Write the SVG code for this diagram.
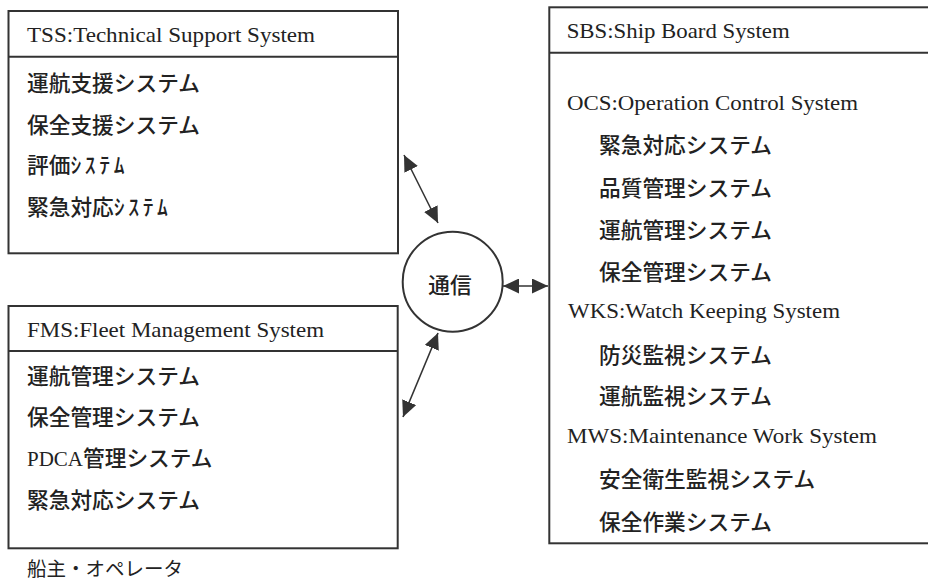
<svg xmlns="http://www.w3.org/2000/svg" width="928" height="581" viewBox="0 0 928 581">
<style>
.box{fill:#fff;stroke:#333;stroke-width:2}
.div{stroke:#333;stroke-width:2}
.lat{font-family:"Liberation Serif","Times New Roman",serif;font-size:21px;fill:#222}
.jp{font-family:"Noto Sans CJK JP","Noto Sans",sans-serif;font-size:21.7px;font-weight:500;fill:#222}
.hw{letter-spacing:3.6px}
.con{stroke:#333;stroke-width:1.6;fill:none;marker-start:url(#ah);marker-end:url(#ah)}
</style>
<defs>
<marker id="ah" markerUnits="userSpaceOnUse" markerWidth="17" markerHeight="15" refX="16" refY="7.5" orient="auto-start-reverse">
<path d="M0,0 L16,7.5 L0,15 z" fill="#333"/>
</marker>
</defs>
<rect width="928" height="581" fill="#fff"/>

<g id="tss">
<rect class="box" x="8.5" y="11" width="389.5" height="242.3"/>
<line class="div" x1="8.5" y1="56.7" x2="398" y2="56.7"/>
<text class="lat" x="27" y="41.7" textLength="288" lengthAdjust="spacingAndGlyphs">TSS:Technical Support System</text>
<text class="jp" x="27" y="91.3">運航支援システム</text>
<text class="jp" x="27" y="133">保全支援システム</text>
<text class="jp" x="27" y="173">評価<tspan class="hw">ｼｽﾃﾑ</tspan></text>
<text class="jp" x="27" y="214.7">緊急対応<tspan class="hw">ｼｽﾃﾑ</tspan></text>
</g>

<g id="fms">
<rect class="box" x="8.5" y="306" width="389.2" height="242.3"/>
<line class="div" x1="8.5" y1="351" x2="397.7" y2="351"/>
<text class="lat" x="27" y="336.7" textLength="297" lengthAdjust="spacingAndGlyphs">FMS:Fleet Management System</text>
<text class="jp" x="27" y="383.5">運航管理システム</text>
<text class="jp" x="27" y="425">保全管理システム</text>
<text class="jp" x="27" y="466"><tspan class="lat" style="font-weight:normal">PDCA</tspan>管理システム</text>
<text class="jp" x="27" y="507.5">緊急対応システム</text>
</g>

<g id="owner">
<text class="jp" x="27" y="576" style="font-size:19.5px;font-weight:normal">船主・オペレータ</text>
</g>

<g id="sbs">
<rect class="box" x="549.3" y="7.3" width="390" height="536"/>
<line class="div" x1="549.3" y1="52.7" x2="940" y2="52.7"/>
<text class="lat" x="566.7" y="38.3" textLength="223" lengthAdjust="spacingAndGlyphs">SBS:Ship Board System</text>
<text class="lat" x="567" y="110" textLength="291" lengthAdjust="spacingAndGlyphs">OCS:Operation Control System</text>
<text class="jp" x="599" y="153">緊急対応システム</text>
<text class="jp" x="599" y="195.5">品質管理システム</text>
<text class="jp" x="599" y="238">運航管理システム</text>
<text class="jp" x="599" y="279.7">保全管理システム</text>
<text class="lat" x="568" y="318.3" textLength="272" lengthAdjust="spacingAndGlyphs">WKS:Watch Keeping System</text>
<text class="jp" x="599" y="363">防災監視システム</text>
<text class="jp" x="599" y="403.8">運航監視システム</text>
<text class="lat" x="567" y="443.3" textLength="310" lengthAdjust="spacingAndGlyphs">MWS:Maintenance Work System</text>
<text class="jp" x="599" y="487">安全衛生監視システム</text>
<text class="jp" x="599" y="529.7">保全作業システム</text>
</g>

<g id="comm">
<circle cx="452.7" cy="281.7" r="50" fill="#fff" stroke="#333" stroke-width="2"/>
<text class="jp" x="450" y="293" text-anchor="middle">通信</text>
</g>

<g id="connectors">
<line class="con" x1="404" y1="155" x2="438" y2="223"/>
<line class="con" x1="438" y1="333" x2="403" y2="417"/>
<line class="con" x1="503" y1="286" x2="548" y2="286"/>
</g>
</svg>
